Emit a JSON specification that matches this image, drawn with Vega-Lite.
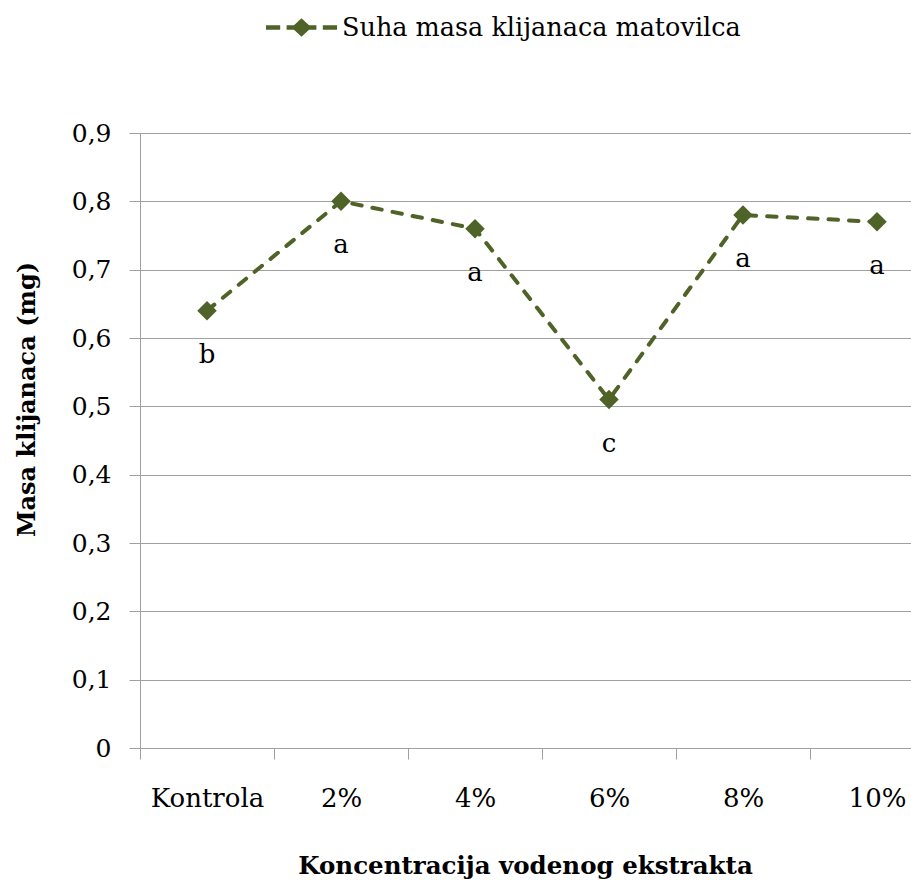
{
  "$schema": "https://vega.github.io/schema/vega-lite/v6.json",
  "width": 771,
  "height": 615,
  "autosize": {"type": "none"},
  "padding": {"left": 140, "top": 133, "right": 0, "bottom": 132},
  "background": "white",
  "data": {
    "values": [
      {"konc": "Kontrola", "masa": 0.64, "slovo": "b", "serija": "Suha masa klijanaca matovilca"},
      {"konc": "2%", "masa": 0.80, "slovo": "a", "serija": "Suha masa klijanaca matovilca"},
      {"konc": "4%", "masa": 0.76, "slovo": "a", "serija": "Suha masa klijanaca matovilca"},
      {"konc": "6%", "masa": 0.51, "slovo": "c", "serija": "Suha masa klijanaca matovilca"},
      {"konc": "8%", "masa": 0.78, "slovo": "a", "serija": "Suha masa klijanaca matovilca"},
      {"konc": "10%", "masa": 0.77, "slovo": "a", "serija": "Suha masa klijanaca matovilca"}
    ]
  },
  "config": {
    "font": "DejaVu Serif",
    "view": {"stroke": null},
    "axis": {
      "labelFont": "DejaVu Serif",
      "titleFont": "DejaVu Serif",
      "labelColor": "#000000",
      "titleColor": "#000000",
      "domainColor": "#A0A0A0",
      "tickColor": "#A0A0A0",
      "gridColor": "#A0A0A0",
      "domainWidth": 1,
      "tickWidth": 1,
      "gridWidth": 1
    },
    "legend": {"labelFont": "DejaVu Serif"},
    "text": {"font": "DejaVu Serif"}
  },
  "encoding": {
    "x": {
      "field": "konc",
      "type": "nominal",
      "sort": null,
      "scale": {"type": "band", "paddingInner": 0, "paddingOuter": 0, "range": [0, 804]},
      "axis": {
        "title": "Koncentracija vodenog ekstrakta",
        "titleFontSize": 24.5,
        "titleFontWeight": "bold",
        "titleX": 385,
        "titleY": 125,
        "titleAlign": "center",
        "titleBaseline": "alphabetic",
        "labelFontSize": 26,
        "labelAngle": 0,
        "labelBaseline": "alphabetic",
        "labelPadding": 47,
        "tickSize": 11,
        "tickBand": "extent",
        "grid": false
      }
    },
    "y": {
      "field": "masa",
      "type": "quantitative",
      "scale": {"domain": [0, 0.9], "nice": false, "zero": true},
      "axis": {
        "title": "Masa klijanaca (mg)",
        "titleFontSize": 24,
        "titleFontWeight": "bold",
        "titleAngle": -90,
        "titleX": -106,
        "titleY": 266,
        "titleAlign": "center",
        "titleBaseline": "alphabetic",
        "values": [0, 0.1, 0.2, 0.3, 0.4, 0.5, 0.6, 0.7, 0.8, 0.9],
        "labelExpr": "datum.value == 0 ? '0' : replace(format(datum.value, '.1f'), '.', ',')",
        "labelFontSize": 25,
        "labelPadding": 18,
        "tickSize": 11,
        "grid": true
      }
    }
  },
  "layer": [
    {
      "mark": {"type": "line", "color": "#4F6228", "strokeWidth": 4, "strokeDash": [9.5, 11], "strokeCap": "round"}
    },
    {
      "mark": {"type": "point", "shape": "diamond", "filled": true, "size": 380, "opacity": 1},
      "encoding": {
        "color": {
          "field": "serija",
          "type": "nominal",
          "scale": {"range": ["#4F6228"]},
          "legend": {
            "title": null,
            "orient": "none",
            "legendX": 126,
            "legendY": -141,
            "padding": 0,
            "symbolType": "M-1,-0.06H-0.6V0.06H-1Z M-0.42,-0.06H0.42V0.06H-0.42Z M0.6,-0.06H1V0.06H0.6Z M-0.28,0L0,-0.26L0.28,0L0,0.26Z",
            "symbolSize": 5041,
            "symbolFillColor": "#4F6228",
            "symbolStrokeWidth": 0,
            "symbolOpacity": 1,
            "labelFontSize": 25.5,
            "labelColor": "#000000",
            "labelOffset": 5,
            "labelLimit": 0
          }
        }
      }
    },
    {
      "mark": {"type": "text", "dy": 52, "baseline": "alphabetic", "align": "center", "fontSize": 26, "color": "#000000"},
      "encoding": {"text": {"field": "slovo"}}
    }
  ]
}
